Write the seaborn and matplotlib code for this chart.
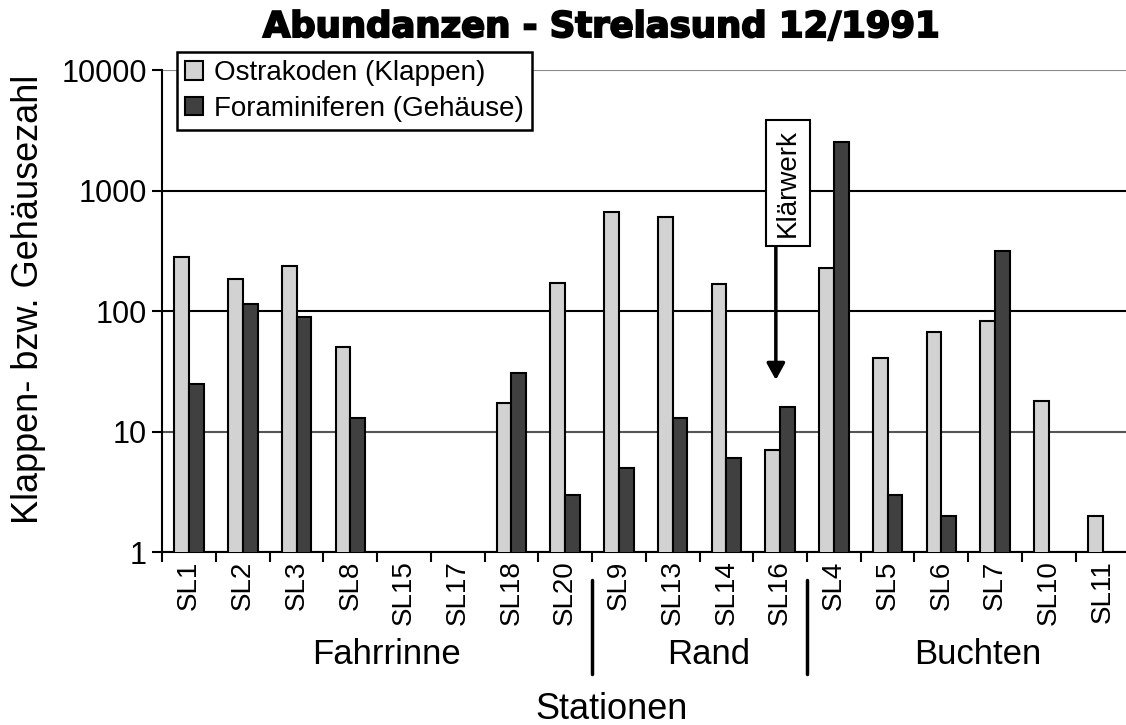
import numpy as np
import pandas as pd
import matplotlib.pyplot as plt
import matplotlib.transforms as mtransforms
import matplotlib.patheffects as pe
from matplotlib.ticker import NullLocator
import seaborn as sns

# Werte (NaN = kein Balken)
stations = ['SL1', 'SL2', 'SL3', 'SL8', 'SL15', 'SL17', 'SL18', 'SL20',
            'SL9', 'SL13', 'SL14', 'SL16',
            'SL4', 'SL5', 'SL6', 'SL7', 'SL10', 'SL11']
ostrakoden = [282, 184, 238, 50, np.nan, np.nan, 17.3, 171,
              660, 608, 167, 7,
              229, 41, 67, 82, 18, 2]
foraminiferen = [25, 114, 89, 13, np.nan, np.nan, 30.6, 3,
                 5, 13, 6, 16,
                 2550, 3, 2, 315, np.nan, np.nan]
serien = ['Ostrakoden (Klappen)', 'Foraminiferen (Gehäuse)']
gruppen = ['Fahrrinne', 'Rand', 'Buchten']
gruppen_n = [8, 4, 6]
y_ticks = [1, 10, 100, 1000, 10000]

df = pd.DataFrame({
    'Station': stations * 2,
    'Anzahl': ostrakoden + foraminiferen,
    'Taxon': [serien[0]] * len(stations) + [serien[1]] * len(stations),
}).dropna()

sns.set_style('white')
plt.rcParams['font.family'] = ['Liberation Sans', 'DejaVu Sans']
plt.rcParams.update({'text.color': 'black', 'axes.labelcolor': 'black',
                     'xtick.color': 'black', 'ytick.color': 'black'})

fig = plt.figure(figsize=(11.26, 7.25), dpi=100)
ax = fig.add_axes([0.1441, 0.2386, 0.8589, 0.6648])

sns.barplot(data=df, x='Station', y='Anzahl', hue='Taxon', order=stations,
            hue_order=serien, palette=['#d2d2d2', '#404040'], width=0.55,
            edgecolor='black', linewidth=1.5, errorbar=None, ax=ax, zorder=3)
ax.set_yscale('log')
ax.set_ylim(1, 10000)
ax.set_xlim(-0.5, len(stations) - 0.5)

# Gitterlinien
grid_cols = ['black', '#555555', 'black', 'black', '#8a8a8a']
for v, c in zip(y_ticks, grid_cols):
    ax.axhline(v, color=c, lw=1.5, zorder=0.5)

ax.set_yticks(y_ticks)
ax.set_yticklabels([str(v) for v in y_ticks], fontsize=22)
ax.yaxis.set_minor_locator(NullLocator())
ax.tick_params(axis='y', which='major', length=7, width=1.5, pad=4, color='black', left=True)

ax.set_xticks(range(len(stations)))
ax.set_xticklabels(stations, rotation=90, fontsize=20, va='top')
ax.set_xticks(np.arange(-0.5, len(stations), 1), minor=True)
ax.tick_params(axis='x', which='major', length=0, pad=6)
ax.tick_params(axis='x', which='minor', length=7, width=1.5, color='black', bottom=True, direction='out')

for s in ['top', 'right']:
    ax.spines[s].set_visible(False)
for s in ['left', 'bottom']:
    ax.spines[s].set_color('black')
    ax.spines[s].set_linewidth(1.5)

ax.set_xlabel('')
ax.set_ylabel('Klappen- bzw. Gehäusezahl', fontsize=26)
ax.yaxis.set_label_coords(-0.12, 0.525)

h, l = ax.get_legend_handles_labels()
leg = ax.legend(h, l, loc='upper left', bbox_to_anchor=(0.015, 1.038), fontsize=20,
                frameon=True, fancybox=False, edgecolor='black', framealpha=1,
                borderpad=0.3, handlelength=0.65, handleheight=0.65,
                handletextpad=0.4, labelspacing=0.35, borderaxespad=0)
leg.get_frame().set_linewidth(1.8)

# Gruppen unter der Achse
trans = mtransforms.blended_transform_factory(ax.transData, fig.transFigure)
start = 0
for name, n in zip(gruppen, gruppen_n):
    ax.text(start + (n - 1) / 2 + 0.17, 1 - 664 / 725, name, transform=trans,
            ha='center', va='baseline', fontsize=25)
    if start + n < len(stations):
        ax.plot([start + n - 0.5] * 2, [1 - 580 / 725, 1 - 674 / 725], transform=trans,
                color='black', lw=2.5, clip_on=False)
    start += n

fig.text(612 / 1126, 1 - 719 / 725, 'Stationen', ha='center', va='baseline', fontsize=26)
fig.text(601 / 1126, 1 - 37 / 725, 'Abundanzen - Strelasund 12/1991', ha='center',
         va='baseline', fontsize=25.5, fontweight='heavy', family='DejaVu Sans',
         path_effects=[pe.withStroke(linewidth=1.4, foreground='black', joinstyle='miter')])

# Klärwerk-Hinweis
i16 = stations.index('SL16')
ax.text(i16 + 0.15, 1154, 'Klärwerk', rotation=90, ha='center', va='center', fontsize=20,
        bbox=dict(boxstyle='square,pad=0.32', fc='white', ec='black', lw=1.5), zorder=5)
ax.annotate('', xy=(i16 - 0.08, 26.8), xytext=(i16 - 0.08, 342),
            arrowprops=dict(arrowstyle='-|>,head_length=1.0,head_width=0.55',
                            color='black', lw=2.5, shrinkA=0, shrinkB=0), zorder=5)

fig.savefig('out.png', dpi=100)
